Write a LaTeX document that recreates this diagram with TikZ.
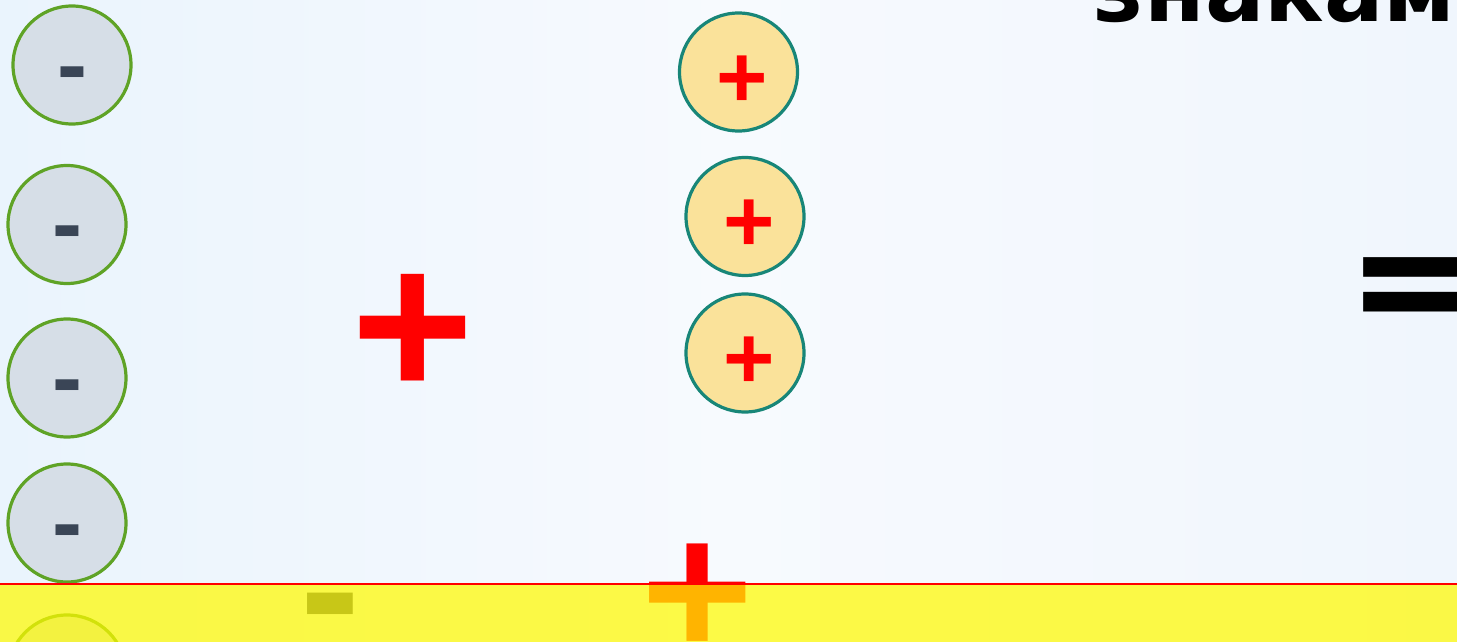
\documentclass[tikz,border=0pt]{standalone}
\usepackage{fontspec}
\setmainfont{Open Sans}
\newfontfamily\signfont{Liberation Sans}
\newfontfamily\titlefont{DejaVu Sans}
\usepackage{tikz}
\usetikzlibrary{positioning}

\definecolor{bgleft}{RGB}{234,244,253}
\definecolor{bgmid}{RGB}{247,250,254}
\definecolor{bgright}{RGB}{240,246,253}
\definecolor{negfill}{RGB}{214,222,231}
\definecolor{negline}{RGB}{95,163,38}
\definecolor{minuscol}{RGB}{58,69,86}
\definecolor{posfill}{RGB}{250,226,154}
\definecolor{posline}{RGB}{24,134,120}
\definecolor{bandyellow}{RGB}{255,250,0}

\tikzset{
  negion/.style={circle, draw=negline, fill=negfill, line width=3.2, minimum size=118, inner sep=0},
  posion/.style={circle, draw=posline, fill=posfill, line width=3.2, minimum size=118, inner sep=0},
  minus/.style={text=minuscol, inner sep=0, font=\signfont\bfseries\fontsize{90}{90}\selectfont},
  plus/.style={text=red, inner sep=0, font=\signfont\bfseries\fontsize{88}{88}\selectfont}
}

\begin{document}
\begin{tikzpicture}[x=1pt, y=-1pt]
  \useasboundingbox (0,0) rectangle (1457,642);
  \clip (0,0) rectangle (1457,642);
  % Background
  \shade[left color=bgleft, right color=bgright, middle color=bgmid] (0,0) rectangle (1457,642);

  % Negative charges (left column)
  \foreach \n/\x/\y in {1/72/65, 2/67/224.5, 3/67/378, 4/67/523, 5/67/674} {
    \node[negion] (neg\n) at (\x,\y) {};
    \node[minus] (negsign\n) at (\x,\y+16) {-};
  }

  % Positive charges (middle column)
  \foreach \n/\x/\y in {1/738.5/72, 2/745/216.5, 3/745/353} {
    \node[posion] (pos\n) at (\x,\y) {};
    \node[plus] (possign\n) at (\x+4,\y+9.5) {+};
  }

  % Big signs
  \node[plus, font=\signfont\bfseries\fontsize{210}{210}\selectfont] (bigplus) at (413,336) {+};
  \node[inner sep=0, xscale=1.35, yscale=1.05, font=\bfseries\fontsize{175}{175}\selectfont] (equals) at (1421,304) {=};
  \node[anchor=base west, inner sep=0, font=\titlefont\bfseries\fontsize{88}{88}\selectfont] (title) at (1093,22) {знаками};

  % Signs under the band
  \node[plus, font=\signfont\bfseries\fontsize{192}{192}\selectfont] (bandplus) at (698,600) {+};
  \node[minus, font=\signfont\bfseries\fontsize{180}{180}\selectfont] (bandminus) at (330,622) {-};

  % Yellow band
  \fill[bandyellow, fill opacity=0.72] (0,584) rectangle (1457,642);
  \draw[red, line width=2] (0,584) -- (1457,584);
\end{tikzpicture}
\end{document}
